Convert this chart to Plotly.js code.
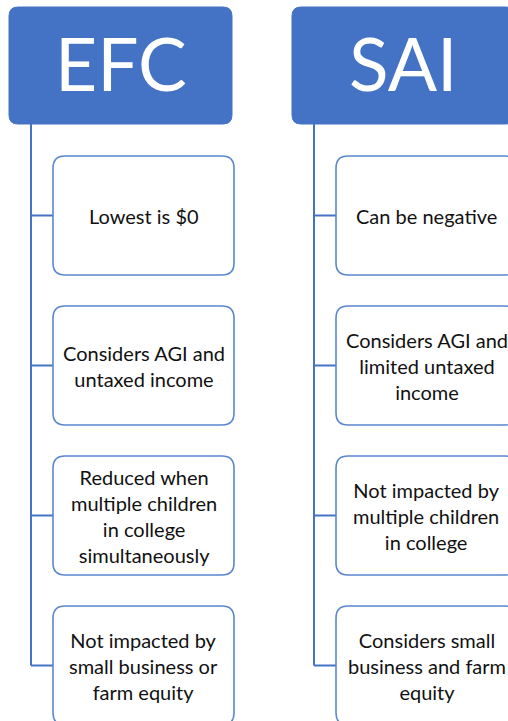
<!DOCTYPE html>
<html><head><meta charset="utf-8">
<script src="https://cdn.plot.ly/plotly-3.0.1.min.js"></script>
<style>html,body{margin:0;padding:0;background:#fff;}#chart{width:508px;height:721px;}</style>
</head><body><div id="chart"></div>
<script>
const headers = ["EFC", "SAI"];
const efcItems = ["Lowest is $0", "Considers AGI and<br>untaxed income", "Reduced when<br>multiple children<br>in college<br>simultaneously", "Not impacted by<br>small business or<br>farm equity"];
const saiItems = ["Can be negative", "Considers AGI and<br>limited untaxed<br>income", "Not impacted by<br>multiple children<br>in college", "Considers small<br>business and farm<br>equity"];
const columns = [efcItems, saiItems];

const blue = "#4472C4";
const colX = [9, 292];      // header left edges
const headW = 223, headTop = 7, headBot = 124;
const lineOff = 22;          // connector x offset from header left
const childOff = 44, childW = 181, childH = 119, childTop0 = 156, childStep = 150;

function rr(x0, y0, x1, y1, r) {
  return `M${x0+r},${y0} L${x1-r},${y0} Q${x1},${y0} ${x1},${y0+r} L${x1},${y1-r} Q${x1},${y1} ${x1-r},${y1} L${x0+r},${y1} Q${x0},${y1} ${x0},${y1-r} L${x0},${y0+r} Q${x0},${y0} ${x0+r},${y0} Z`;
}

const shapes = [], annotations = [];
headers.forEach((h, ci) => {
  const hx = colX[ci];
  shapes.push({type:"path", path: rr(hx, headTop, hx+headW, headBot, 9), fillcolor: blue, line:{color: blue, width:1}, layer:"above"});
  annotations.push({x: hx+headW/2, y: (headTop+headBot)/2 - 3, xref:"x", yref:"y", text: h, showarrow:false,
    font:{family:"Lato, 'Open Sans', sans-serif", size:73, color:"#ffffff"}, xanchor:"center", yanchor:"middle"});
  const lx = hx + lineOff;
  const items = columns[ci];
  const lastMid = childTop0 + (items.length-1)*childStep + childH/2;
  shapes.push({type:"line", x0: lx, x1: lx, y0: headBot, y1: lastMid, line:{color: blue, width:2}});
  items.forEach((t, i) => {
    const y0 = childTop0 + i*childStep, y1 = y0 + childH, ym = (y0+y1)/2;
    const cx0 = hx + childOff, cx1 = cx0 + childW;
    shapes.push({type:"line", x0: lx, x1: cx0, y0: ym, y1: ym, line:{color: blue, width:2}});
    shapes.push({type:"path", path: rr(cx0, y0, cx1, y1, 12), fillcolor:"#ffffff", line:{color:"#5B86D0", width:1.6}});
    annotations.push({x:(cx0+cx1)/2, y: ym, xref:"x", yref:"y", text: t, showarrow:false,
      font:{family:"Lato, 'Open Sans', sans-serif", size:20, color:"#111111"}, xanchor:"center", yanchor:"middle", align:"center"});
  });
});

const layout = {
  width: 508, height: 721,
  margin:{l:0, r:0, t:0, b:0},
  paper_bgcolor:"#ffffff", plot_bgcolor:"#ffffff",
  xaxis:{range:[0,508], visible:false, fixedrange:true},
  yaxis:{range:[721,0], visible:false, fixedrange:true},
  shapes, annotations, showlegend:false
};
Plotly.newPlot("chart", [], layout, {displayModeBar:false, staticPlot:true});
</script></body></html>
